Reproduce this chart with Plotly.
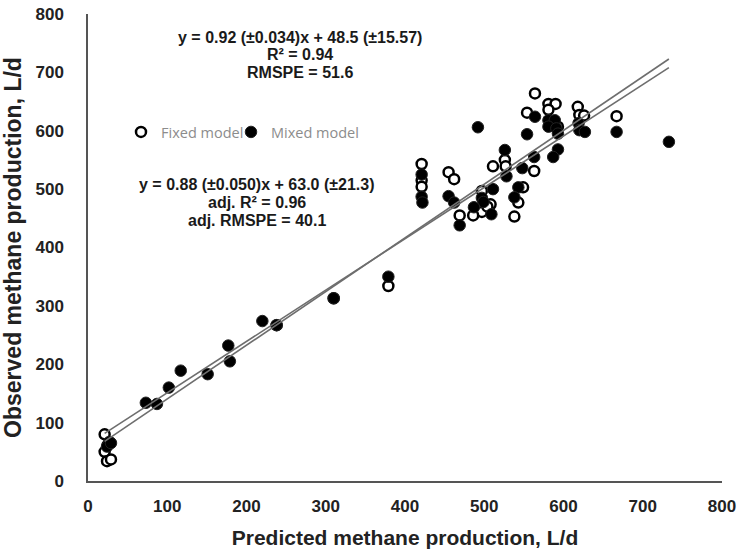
import plotly.graph_objects as go

# Fixed model (open circles): predicted, observed (L/d)
fixed_pred = [564, 581, 590, 581, 554, 618, 620, 626, 667, 593,
              421, 421, 421, 455, 462, 511, 526, 527, 563, 549,
              497, 508, 497, 486, 543, 538, 469, 504,
              379, 310, 238, 21, 21, 24, 29, 25]
fixed_obs = [664, 646, 646, 636, 631, 641, 627, 626, 625, 607,
             543, 515, 504, 529, 517, 539, 550, 539, 531, 503,
             497, 474, 461, 455, 477, 453, 455, 470,
             334, 313, 267, 80, 50, 34, 37, 62]

# Mixed model (filled circles)
mixed_pred = [492, 564, 581, 589, 581, 591, 554, 619, 620, 627,
              667, 733, 593, 593, 587, 563, 526, 528, 548, 511,
              543, 538, 421, 421, 422, 455, 462, 497, 499, 487,
              509, 469,
              379, 310, 220, 238, 177, 179, 151, 117, 102, 73,
              87, 27, 24, 29]
mixed_obs = [606, 624, 618, 618, 607, 604, 594, 613, 601, 598,
             598, 581, 595, 568, 555, 555, 567, 522, 536, 500,
             503, 486, 525, 487, 477, 488, 477, 485, 478, 469,
             457, 438,
             350, 313, 274, 267, 232, 205, 183, 189, 160, 134,
             132, 67, 59, 65]

# Regression equations
fixed_slope, fixed_int = 0.92, 48.5
mixed_slope, mixed_int = 0.88, 63.0

axis_ticks = [0, 100, 200, 300, 400, 500, 600, 700, 800]

xmin = min(fixed_pred + mixed_pred)
xmax = max(fixed_pred + mixed_pred)
line_x = [xmin, xmax]

fig = go.Figure()

fig.add_trace(go.Scatter(
    x=fixed_pred, y=fixed_obs, mode="markers", name="Fixed model", legend="legend",
    marker=dict(symbol="circle", size=10, color="white",
                line=dict(color="black", width=2.5))))
fig.add_trace(go.Scatter(
    x=mixed_pred, y=mixed_obs, mode="markers", name="Mixed model", legend="legend2",
    marker=dict(symbol="circle", size=11.5, color="black",
                line=dict(color="#222", width=1))))
fig.add_trace(go.Scatter(
    x=line_x, y=[fixed_slope * v + fixed_int for v in line_x],
    mode="lines", showlegend=False, line=dict(color="#6e6e6e", width=1.6)))
fig.add_trace(go.Scatter(
    x=line_x, y=[mixed_slope * v + mixed_int for v in line_x],
    mode="lines", showlegend=False, line=dict(color="#6e6e6e", width=1.6)))

FONT = "Liberation Sans, Arial, sans-serif"
txt_font = dict(family=FONT, size=16, color="#1a1a1a", weight="bold")

L, R, T, B = 88, 722, 14, 481


def px(xp):
    return (xp - L) / (R - L)


def py(yp):
    return (B - yp) / (B - T)


fixed_lines = ["y = 0.92 (±0.034)x + 48.5 (±15.57)",
               "R² = 0.94",
               "RMSPE = 51.6"]
mixed_lines = ["y = 0.88 (±0.050)x + 63.0 (±21.3)",
               "adj. R² = 0.96",
               "adj. RMSPE = 40.1"]
for i, t in enumerate(fixed_lines):
    fig.add_annotation(text=t, xref="paper", yref="paper",
                       x=px(300), y=py(37 + 17.5 * i),
                       xanchor="center", yanchor="middle", showarrow=False,
                       font=txt_font)
for i, t in enumerate(mixed_lines):
    fig.add_annotation(text=t, xref="paper", yref="paper",
                       x=px(257), y=py(184 + 18 * i),
                       xanchor="center", yanchor="middle", showarrow=False,
                       font=txt_font)

axis_common = dict(
    range=[0, 800], tickvals=axis_ticks, showgrid=False, zeroline=False,
    showline=True, linecolor="#555", linewidth=1.5, ticks="", automargin=False,
    tickfont=dict(family=FONT, size=17, color="#222", weight="bold"),
)

legend_common = dict(
    orientation="h", xanchor="left", yanchor="middle", bgcolor="rgba(0,0,0,0)",
    font=dict(family="Open Sans, sans-serif", size=14.5, color="#8c8c8c"),
    itemwidth=30,
)

fig.update_layout(
    width=740, height=550,
    margin=dict(l=L, r=740 - R, t=T, b=550 - B),
    plot_bgcolor="white", paper_bgcolor="white",
    showlegend=True,
    legend=dict(x=px(121), y=py(132), **legend_common),
    legend2=dict(x=px(231), y=py(132), **legend_common),
    xaxis=dict(title=dict(text="Predicted methane production, L/d", standoff=15,
                          font=dict(family=FONT, size=21, color="#222", weight="bold")),
               ticklabelstandoff=9, **axis_common),
    yaxis=dict(title=dict(text="Observed methane production, L/d", standoff=8,
                          font=dict(family=FONT, size=23, color="#222", weight="bold")),
               ticklabelstandoff=19, **axis_common),
)

fig.write_html("out.html", config={"displayModeBar": False},
               post_script="document.body.style.margin='0';document.body.style.overflow='hidden';")
